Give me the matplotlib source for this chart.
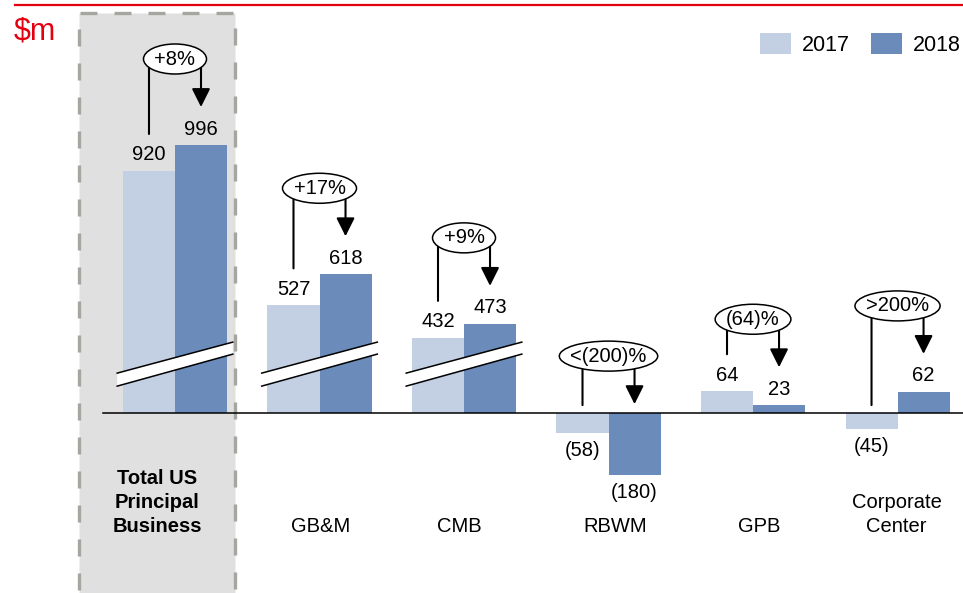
import matplotlib
matplotlib.use('Agg')
import matplotlib.pyplot as plt
import numpy as np
from matplotlib.lines import Line2D
from matplotlib.patches import Patch, Polygon, Rectangle
from matplotlib.path import Path
from matplotlib.transforms import Affine2D, IdentityTransform, blended_transform_factory

plt.rcParams['font.family'] = ['Liberation Sans', 'DejaVu Sans']

categories = ['Total US\nPrincipal\nBusiness', 'GB&M', 'CMB', 'RBWM', 'GPB', 'Corporate\nCenter']
values_2017 = [920, 527, 432, -58, 64, -45]
values_2018 = [996, 618, 473, -180, 23, 62]
changes = ['+8%', '+17%', '+9%', '<(200)%', '(64)%', '>200%']
years = ['2017', '2018']
broken = [True, True, True, False, False, False]

LIGHT = '#c3cfe2'
DARK = '#6b8cba'
RED = '#e3000f'
FS = 14.5

# a slice of the value axis is cut out so the big bars fit
CUT_LO, CUT_HI = 145, 357
GAP = CUT_HI - CUT_LO


def squash(v):
    v = np.asarray(v, dtype=float)
    return np.where(v > CUT_HI, v - GAP, np.minimum(v, CUT_LO))


def unsquash(d):
    d = np.asarray(d, dtype=float)
    return np.where(d > CUT_LO, d + GAP, d)


def fmt(v):
    return f'({-v})' if v < 0 else f'{v}'


def oval(x0, y0, width, height, mutation_size):
    # flat ellipse around the text, fixed height
    cx, cy = x0 + width / 2, y0 + height / 2
    a, b = width / 2 + 11, 15
    return Affine2D().scale(a, b).translate(cx, cy).transform_path(Path.unit_circle())


W, H = 963, 593
fig = plt.figure(figsize=(W / 100, H / 100), dpi=100)
ax = fig.add_axes([0, 0, 1, 1])
ax.set_yscale('function', functions=(squash, unsquash))
ax.set_xlim(-1.211, 5.453)
ax.set_ylim(-526, 1420)
ax.axis('off')

# shaded box behind the total
box = Rectangle((78.5, -10), 156, H - 13 + 10, transform=IdentityTransform(),
                fc='#e0e0e0', ec='#a6a6a0', lw=2.4, ls=(0, (5.1, 5.1)), zorder=0)
fig.add_artist(box)

fig.add_artist(Line2D([15 / W, 1], [1 - 4.5 / H] * 2, color=RED, lw=1.6))
fig.text(14 / W, 1 - 31 / H, '\\$m', color=RED, fontsize=22, ha='left', va='center')

x = np.arange(len(categories))
bw = 0.36
ax.bar(x - bw / 2, values_2017, bw, color=LIGHT, zorder=2)
ax.bar(x + bw / 2, values_2018, bw, color=DARK, zorder=2)
ax.axhline(0, xmin=103 / W, color='black', lw=1.1, zorder=3)

# break marks (y in pixels above the zero line)
base_px = ax.transData.transform((0, 0))[1]
brk = blended_transform_factory(ax.transData, Affine2D().translate(0, base_px))
for i in np.flatnonzero(broken):
    xl, xr = i - 0.40, i + 0.40
    ax.add_patch(Polygon([(xl, 27), (xr, 59), (xr, 71), (xl, 40)], closed=True,
                         fc='white', ec='none', transform=brk, zorder=4))
    ax.plot([xl, xr], [40, 71], color='black', lw=1.1, transform=brk, zorder=4)
    ax.plot([xl, xr], [27, 59], color='black', lw=1.1, transform=brk, zorder=4)


def shifted(dy):
    return ax.transData + Affine2D().translate(0, dy)


for i in range(len(categories)):
    lv, rv = values_2017[i], values_2018[i]
    xl, xr = i - bw / 2, i + bw / 2
    ax.text(xl, lv, fmt(lv), transform=shifted(16 if lv > 0 else -18),
            ha='center', va='center', fontsize=FS, zorder=5)
    ax.text(xr, rv, fmt(rv), transform=shifted(16 if rv > 0 else -18),
            ha='center', va='center', fontsize=FS, zorder=5)

    r_anchor, tip_dy = (rv, 38) if rv > 0 else (0, 9)
    l_anchor, end_dy = (lv, 37) if lv > 0 else (0, 8)
    oval_dy = tip_dy + 48

    ax.annotate('', xy=(xr, r_anchor), xycoords=shifted(tip_dy),
                xytext=(xr, r_anchor), textcoords=shifted(oval_dy),
                arrowprops=dict(arrowstyle='-|>,head_length=0.4,head_width=0.2',
                                color='black', lw=1.5, mutation_scale=28,
                                shrinkA=0, shrinkB=0), zorder=5)
    ax.annotate('', xy=(xl, l_anchor), xycoords=shifted(end_dy),
                xytext=(xl, r_anchor), textcoords=shifted(oval_dy),
                arrowprops=dict(arrowstyle='-', color='black', lw=1.5,
                                shrinkA=0, shrinkB=0), zorder=5)
    ax.text(i, r_anchor, changes[i], transform=shifted(oval_dy), ha='center',
            va='center', fontsize=FS, zorder=6,
            bbox=dict(boxstyle=oval, fc='white', ec='black', lw=1.1))

# category names along the bottom (pixel nudges from the bar-pair centre)
name_nudge = [-18, 1, -5, 7, 6, -1]
lab = blended_transform_factory(ax.transData, fig.transFigure)
for i, name in enumerate(categories):
    ax.text(i + name_nudge[i] / 144.5, 1 - 536 / H, name, transform=lab,
            ha='center', va='bottom', fontsize=FS, linespacing=1.32,
            fontweight='bold' if i == 0 else 'normal')

ax.legend(handles=[Patch(fc=LIGHT), Patch(fc=DARK)], labels=years, ncol=2,
          frameon=False, loc='upper right', bbox_to_anchor=(0.998, 1 - 33 / H),
          bbox_transform=fig.transFigure, fontsize=15.5, handlelength=1.45,
          handleheight=1.1, handletextpad=0.5, columnspacing=1.0,
          borderpad=0, borderaxespad=0)

fig.savefig('out.png', dpi=100)
